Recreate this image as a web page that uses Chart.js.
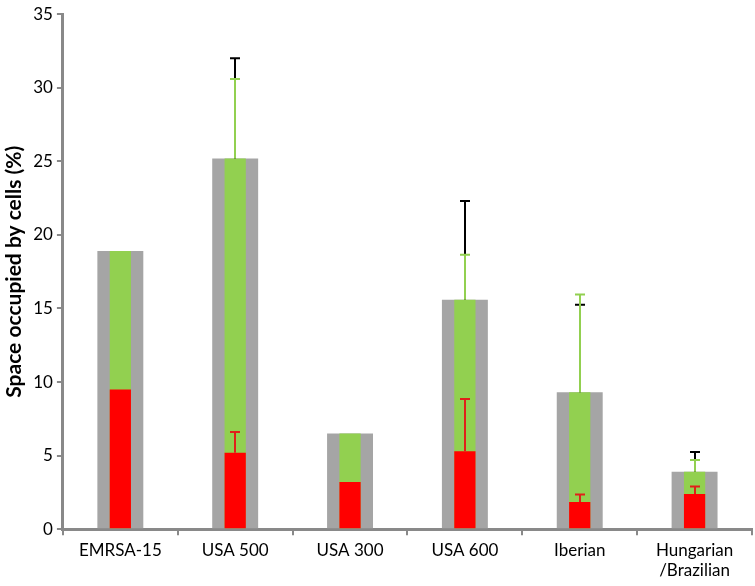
<!DOCTYPE html>
<html>
<head>
<meta charset="utf-8">
<script src="https://cdn.jsdelivr.net/npm/chart.js@4"></script>
<style>
  html, body { margin: 0; padding: 0; background: #fff; }
  #wrap { width: 755px; height: 586px; }
</style>
</head>
<body>
<div id="wrap"><canvas id="cellChart"></canvas></div>
<script>
// ===== DATA =====
const strains = ['EMRSA-15', 'USA 500', 'USA 300', 'USA 600', 'Iberian', ['Hungarian', '/Brazilian']];
const totalSpace = [18.9, 25.2, 6.5, 15.6, 9.3, 3.9];
const greenSpace = [18.9, 25.2, 6.5, 15.6, 9.3, 3.9];
const redSpace = [9.5, 5.2, 3.2, 5.3, 1.85, 2.4];
// upper end of the error bars (null = no bar)
const totalErrTop = [null, 32.0, null, 22.3, 15.25, 5.25];
const greenErrTop = [null, 30.6, null, 18.65, 15.95, 4.7];
const redErrTop = [null, 6.6, null, 8.85, 2.35, 2.9];

const errorBars = {
    id: 'errorBars',
    afterDatasetsDraw(chart) {
        const c = chart.ctx;
        const x = chart.scales.x, y = chart.scales.y;
        const sets = [
            { base: totalSpace, top: totalErrTop, color: '#000000' },
            { base: greenSpace, top: greenErrTop, color: '#92D050' },
            { base: redSpace, top: redErrTop, color: '#E0201A' }
        ];
        c.save();
        c.lineWidth = 2;
        sets.forEach(function(s) {
            c.strokeStyle = s.color;
            s.top.forEach(function(t, i) {
                if (t === null) return;
                const px = Math.round(x.getPixelForValue(i));
                const y0 = y.getPixelForValue(s.base[i]);
                const y1 = y.getPixelForValue(t);
                c.beginPath();
                c.moveTo(px, y0);
                c.lineTo(px, y1);
                c.moveTo(px - 5, y1);
                c.lineTo(px + 5, y1);
                c.stroke();
            });
        });
        c.restore();
    }
};

new Chart(document.getElementById('cellChart'), {
    type: 'bar',
    data: {
        labels: strains,
        datasets: [
            {
                label: 'Total',
                data: totalSpace,
                backgroundColor: '#A5A5A5',
                grouped: false,
                barPercentage: 0.40,
                categoryPercentage: 1,
                order: 3
            },
            {
                label: 'Green',
                data: greenSpace,
                backgroundColor: '#92D050',
                grouped: false,
                barPercentage: 0.185,
                categoryPercentage: 1,
                order: 2
            },
            {
                label: 'Red',
                data: redSpace,
                backgroundColor: '#FF0000',
                grouped: false,
                barPercentage: 0.185,
                categoryPercentage: 1,
                order: 1
            }
        ]
    },
    options: {
        responsive: true,
        maintainAspectRatio: false,
        animation: false,
        layout: { padding: { top: 0, right: 3, left: 2, bottom: 0 } },
        plugins: {
            legend: { display: false },
            tooltip: { enabled: false }
        },
        scales: {
            x: {
                grid: {
                    offset: true,
                    drawOnChartArea: false,
                    drawTicks: true,
                    tickLength: 6,
                    color: '#898989',
                    lineWidth: 2
                },
                border: { color: '#898989', width: 3 },
                ticks: {
                    color: '#000',
                    font: { family: 'Lato', size: 17 },
                    maxRotation: 0,
                    padding: 5
                }
            },
            y: {
                min: 0,
                max: 35,
                grid: {
                    drawOnChartArea: false,
                    drawTicks: true,
                    tickLength: 6,
                    color: '#898989',
                    lineWidth: 2
                },
                border: { color: '#898989', width: 3 },
                ticks: {
                    stepSize: 5,
                    color: '#000',
                    font: { family: 'Lato', size: 17 },
                    padding: 4
                },
                title: {
                    display: true,
                    text: 'Space occupied by cells (%)',
                    color: '#000',
                    font: { family: 'Lato', size: 21, weight: 'bold' },
                    padding: { top: 0, bottom: 2 }
                }
            }
        }
    },
    plugins: [errorBars]
});
</script>
</body>
</html>
